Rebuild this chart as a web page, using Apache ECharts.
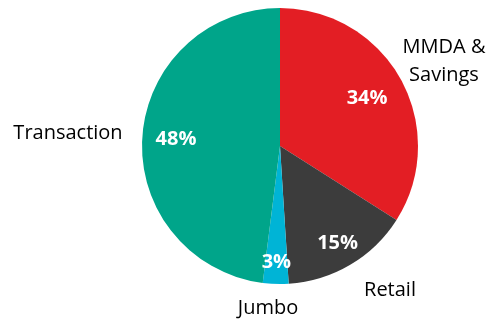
<!DOCTYPE html>
<html><head><meta charset="utf-8">
<script src="https://cdn.jsdelivr.net/npm/echarts@6/dist/echarts.min.js"></script>
<style>html,body{margin:0;padding:0;background:#fff}#c{width:493px;height:321px}</style>
</head><body><div id="c"></div>
<script>
// ---- data ----
const categories = ['MMDA &\nSavings', 'Retail', 'Jumbo', 'Transaction'];
const values = [34, 15, 3, 48];
const colors = ['#E31E24', '#3C3C3C', '#00B4D6', '#00A58A'];

// ---- layout (styling, not data) ----
const CX = 280, CY = 146, R = 138;
const inLabelFrac = [0.72, 0.82, 0.84, 0.755];
const outLabelPos = [[444, 61], [390, 290], [268, 308], [68, 133]];

const total = values.reduce((a, b) => a + b, 0);
const midAngles = [];
let cum = 0;
values.forEach(v => { midAngles.push((cum + v / 2) / total * 2 * Math.PI); cum += v; });

const data = categories.map((n, i) => ({ name: n, value: values[i], itemStyle: { color: colors[i] } }));
const FONT = '"Open Sans", sans-serif';

const chart = echarts.init(document.getElementById('c'), null, { renderer: 'canvas' });
chart.setOption({
  animation: false,
  series: [
    {
      type: 'pie', center: [CX, CY], radius: [0, R], startAngle: 90, clockwise: true,
      silent: true, emphasis: { disabled: true },
      itemStyle: { borderWidth: 0 },
      label: { show: true, position: 'inside', formatter: '{c}%', color: '#fff', fontWeight: 'bold', fontSize: 20, fontFamily: FONT },
      labelLine: { show: false },
      data: data,
      labelLayout: function (p) {
        const a = midAngles[p.dataIndex], f = inLabelFrac[p.dataIndex];
        return { x: CX + f * R * Math.sin(a), y: CY - f * R * Math.cos(a), align: 'center', verticalAlign: 'middle' };
      }
    },
    {
      type: 'pie', center: [CX, CY], radius: [0, R], startAngle: 90, clockwise: true,
      silent: true, emphasis: { disabled: true },
      itemStyle: { color: 'rgba(0,0,0,0)', borderWidth: 0 },
      label: { show: true, position: 'inside', formatter: '{b}', color: '#000', fontSize: 20, lineHeight: 28, fontFamily: FONT, align: 'center' },
      labelLine: { show: false },
      data: categories.map((n, i) => ({ name: n, value: values[i] })),
      labelLayout: function (p) {
        const q = outLabelPos[p.dataIndex];
        return { x: q[0], y: q[1], align: 'center', verticalAlign: 'middle' };
      }
    }
  ]
});
</script></body></html>
